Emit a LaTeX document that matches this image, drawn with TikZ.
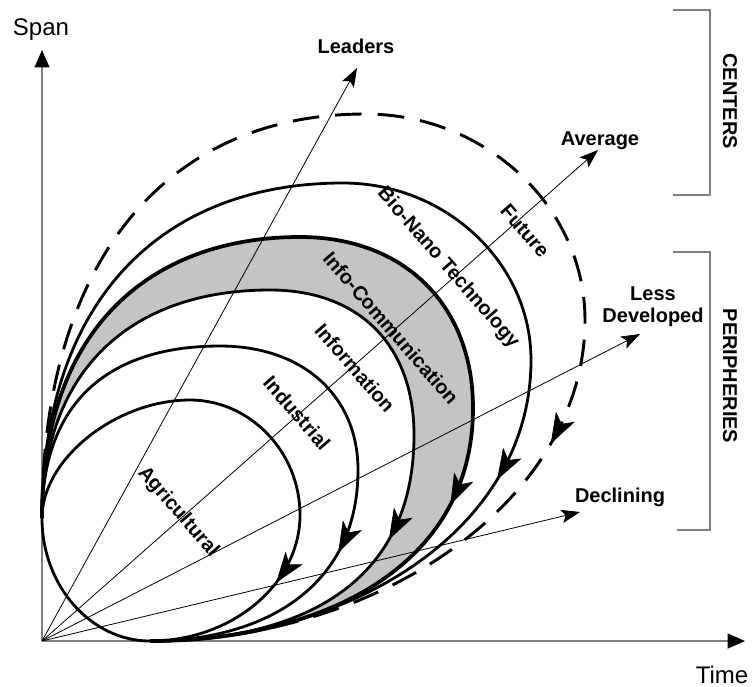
\documentclass[tikz,border=0pt]{standalone}
\usepackage{fontspec}
\setmainfont{Liberation Sans}
\usetikzlibrary{arrows.meta}
\definecolor{axisgray}{RGB}{128,128,128}
\definecolor{bandgray}{RGB}{196,196,196}
\begin{document}
\begin{tikzpicture}[x=0.75pt,y=-0.75pt,
  axisline/.style={draw=axisgray, line width=1.5pt, -{Triangle[length=13pt,width=11pt,color=black]}},
  rayline/.style={draw=black, line width=0.6pt, -{Stealth[length=14pt,width=10pt,inset=3pt]}},
  epoch/.style={draw=black, line width=2.1pt},
  epochbold/.style={draw=black, line width=2.8pt},
  epochdash/.style={draw=black, line width=2.2pt, dash pattern=on 20pt off 12pt},
  looptip/.style={draw=black, line width=0.5pt, -{Stealth[length=23pt,width=16pt,inset=6pt]}},
  bracket/.style={draw=axisgray, line width=1.5pt},
  lab/.style={font=\fontsize{15}{18}\selectfont\bfseries, inner sep=0pt},
  band/.style={font=\fontsize{15}{18}\selectfont\bfseries, inner sep=0pt, rotate=-49},
  axlab/.style={font=\fontsize{18}{21}\selectfont, inner sep=0pt, anchor=base},
]
\useasboundingbox (0,0) rectangle (755,686);

% shaded band between the Information and Info-Communication curves
\fill[bandgray]
  (42,518) .. controls (42,321) and (158,237) .. (300,237)
           .. controls (404,237) and (473,305) .. (473,408)
           .. controls (473,568) and (320,641) .. (150,641)
           .. controls (300,641) and (414,585) .. (414,435)
           .. controls (414,345) and (359,290) .. (270,290)
           .. controls (133,290) and (42,368) .. (42,518) -- cycle;

% axes
\coordinate (O) at (42,641);
\coordinate (ytip) at (42,50);
\coordinate (xtip) at (745,641);
\draw[axisline] (O) -- (ytip);
\draw[axisline] (O) -- (xtip);
\node[axlab] (span) at (41,35) {Span};
\node[axlab] (time) at (722,683) {Time};

% rays
\node[lab, anchor=base] (leaders) at (356,53) {Leaders};
\node[lab, anchor=base] (average) at (600,145) {Average};
\node[lab, align=center, anchor=base] (less) at (653,322) {Less\\[-2pt]Developed};
\node[lab, anchor=base] (declining) at (620,502) {Declining};
\coordinate (rLead) at (357,68);
\coordinate (rAvg) at (598,150);
\coordinate (rLess) at (640,334);
\coordinate (rDecl) at (580,512);
\draw[rayline] (O) -- (rLead);
\draw[rayline] (O) -- (rAvg);
\draw[rayline] (O) -- (rLess);
\draw[rayline] (O) -- (rDecl);

% Agricultural loop (closed)
\draw[epoch] (42,518) .. controls (42,459) and (116,400) .. (190,400)
  .. controls (250,400) and (300,452) .. (300,515)
  .. controls (300,584) and (232,641) .. (150,641)
     coordinate[pos=0.33] (t1a) coordinate[pos=0.36] (t1b)
  .. controls (91,641) and (42,586) .. (42,518) -- cycle;
\draw[looptip] (t1a) -- (t1b);

% Industrial
\draw[epoch] (42,518) .. controls (42,398) and (113,346) .. (220,346)
  .. controls (303,346) and (358,396) .. (358,470)
  .. controls (358,590) and (260,641) .. (150,641)
     coordinate[pos=0.24] (t2a) coordinate[pos=0.27] (t2b);
\draw[looptip] (t2a) -- (t2b);

% Information
\draw[epoch] (42,518) .. controls (42,368) and (133,290) .. (270,290)
  .. controls (359,290) and (414,345) .. (414,435)
  .. controls (414,585) and (300,641) .. (150,641)
     coordinate[pos=0.25] (t3a) coordinate[pos=0.28] (t3b);
\draw[looptip] (t3a) -- (t3b);

% Info-Communication
\draw[epochbold] (42,518) .. controls (42,321) and (158,237) .. (300,237)
  .. controls (404,237) and (473,305) .. (473,408)
  .. controls (473,568) and (320,641) .. (150,641)
     coordinate[pos=0.2] (t4a) coordinate[pos=0.23] (t4b);
\draw[looptip] (t4a) -- (t4b);

% Bio-Nano Technology
\draw[epoch] (42,518) .. controls (42,300) and (162,183) .. (343,183)
  .. controls (446,183) and (531,263) .. (531,360)
  .. controls (531,530) and (350,641) .. (150,641)
     coordinate[pos=0.23] (t5a) coordinate[pos=0.26] (t5b);
\draw[looptip] (t5a) -- (t5b);

% Future (dashed)
\draw[epochdash] (42,518) .. controls (42,255) and (171,114) .. (365,114)
  .. controls (486,114) and (585,207) .. (585,320)
  .. controls (585,500) and (380,641) .. (150,641)
     coordinate[pos=0.215] (t6a) coordinate[pos=0.245] (t6b);
\draw[looptip] (t6a) -- (t6b);

% era labels
\node[band] (agri) at (178,512) {Agricultural};
\node[band] (indu) at (297,413) {Industrial};
\node[band] (info) at (355,368) {Information};
\node[band] (icom) at (391,328) {Info-Communication};
\node[band] (bion) at (448,268) {Bio-Nano Technology};
\node[band] (futu) at (525,231) {Future};

% group brackets
\draw[bracket] (673,10) -- (710,10) -- (710,195) -- (673,195);
\draw[bracket] (673,252) -- (710,252) -- (710,530) -- (677,530);
\node[lab, rotate=-90] (centers) at (730,101) {CENTERS};
\node[lab, rotate=-90] (periph) at (730,376) {PERIPHERIES};
\end{tikzpicture}
\end{document}
